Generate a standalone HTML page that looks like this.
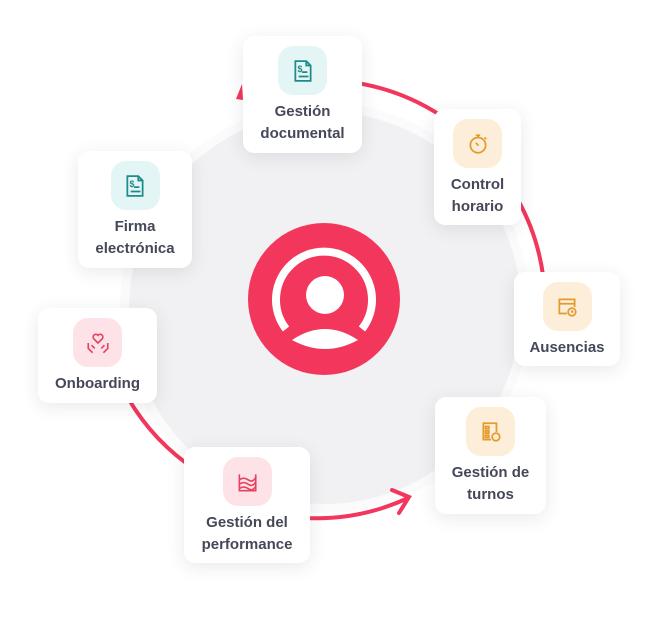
<!DOCTYPE html>
<html><head><meta charset="utf-8"><style>
html,body{margin:0;padding:0;background:#fff;}
body{width:658px;height:626px;position:relative;overflow:hidden;font-family:"Liberation Sans",sans-serif;}
.card{position:absolute;background:#fff;border-radius:11px;box-shadow:0 4px 18px rgba(40,40,60,0.10);text-align:center;color:#454858;font-weight:bold;font-size:15px;line-height:22px;}
.tile{width:49px;height:49px;border-radius:15px;margin:10px auto 6px;display:flex;align-items:center;justify-content:center;}
.teal{background:#e3f5f5;}.orange{background:#fdeed9;}.pink{background:#fde3e8;}
svg.bg{position:absolute;left:0;top:0;}
</style></head><body>
<svg class="bg" width="658" height="626" viewBox="0 0 658 626">
  <circle cx="325" cy="308" r="205" fill="#fbfbfc"/>
  <circle cx="325" cy="308" r="196" fill="#f1f1f3"/>
  <g fill="none" stroke="#f2365c" stroke-width="4" stroke-linecap="round">
    <path d="M350 82 A218 218 0 0 1 440 115"/>
    <path d="M518 200 A218 218 0 0 1 543 275"/>
    <path d="M128 398 A218 218 0 0 0 196 470"/>
    <path d="M305 518 A218 218 0 0 0 408 498"/>
    <path d="M392 490 L409 497 L399 513"/>
  </g>
  <path d="M236 99 L242 84 L243 100 Z" fill="#f2365c"/>
  <circle cx="324" cy="299" r="76" fill="#f2365c"/>
  <path d="M286 329 A48 48 0 1 1 362 329" fill="none" stroke="#fff" stroke-width="8"/>
  <circle cx="325" cy="295" r="19" fill="#fff"/>
  <path d="M292 340 Q325 318 358 340 Q325 358 292 340 Z" fill="#fff"/>
</svg>

<div class="card" style="left:243px;top:36px;width:119px;height:117px;">
  <div class="tile teal"><svg width="24" height="24" viewBox="0 0 22 22" fill="none" stroke="#1f8a8a" stroke-width="1.6"><path d="M4 2h10l4 4v14H4z"/><path d="M14 2v4h4"/><text x="6" y="12" font-size="8" fill="#1f8a8a" stroke="none" font-family="Liberation Sans">$</text><path d="M10 12h5M7 16h9"/></svg></div>
  Gestión<br>documental
</div>
<div class="card" style="left:434px;top:109px;width:87px;height:116px;">
  <div class="tile orange"><svg width="24" height="24" viewBox="0 0 22 22" fill="none" stroke="#e49b2c" stroke-width="1.6"><circle cx="11" cy="12" r="7"/><path d="M9 3h4M11 3v2M17 5l1.5 1.5M9 10l2.5 2.5"/></svg></div>
  Control<br>horario
</div>
<div class="card" style="left:514px;top:272px;width:106px;height:94px;">
  <div class="tile orange"><svg width="24" height="24" viewBox="0 0 22 22" fill="none" stroke="#e49b2c" stroke-width="1.6"><path d="M11 17H4V4h14v7M4 8h14"/><circle cx="15.5" cy="15.5" r="3.5"/><path d="M15.5 14v1.5h1.2"/></svg></div>
  Ausencias
</div>
<div class="card" style="left:435px;top:397px;width:111px;height:117px;">
  <div class="tile orange"><svg width="24" height="24" viewBox="0 0 22 22" fill="none" stroke="#e49b2c" stroke-width="1.6"><path d="M11 18H4V3h12v8"/><path d="M6 6h3v2H6zM6 10h3v2H6zM6 14h3v2H6z"/><circle cx="15.5" cy="15.5" r="3.5"/></svg></div>
  Gestión de<br>turnos
</div>
<div class="card" style="left:184px;top:447px;width:126px;height:116px;">
  <div class="tile pink"><svg width="24" height="24" viewBox="0 0 22 22" fill="none" stroke="#e8405f" stroke-width="1.5"><path d="M4 4v15h15V4"/><path d="M4 9q4-3 8 0t7-2M4 13q4-3 8 0t7-2M4 17q4-3 8 0t7-2"/></svg></div>
  Gestión del<br>performance
</div>
<div class="card" style="left:38px;top:308px;width:119px;height:95px;">
  <div class="tile pink"><svg width="26" height="26" viewBox="0 0 24 24" fill="none" stroke="#e8405f" stroke-width="1.5"><path d="M12 12l-4-4a2.4 2.4 0 0 1 4-3 2.4 2.4 0 0 1 4 3z"/><path d="M3 12v5l4 4M21 12v5l-4 4M6 14l3 3M18 14l-3 3"/></svg></div>
  Onboarding
</div>
<div class="card" style="left:78px;top:151px;width:114px;height:117px;">
  <div class="tile teal"><svg width="24" height="24" viewBox="0 0 22 22" fill="none" stroke="#1f8a8a" stroke-width="1.6"><path d="M4 2h10l4 4v14H4z"/><path d="M14 2v4h4"/><text x="6" y="12" font-size="8" fill="#1f8a8a" stroke="none" font-family="Liberation Sans">$</text><path d="M10 12h5M7 16h9"/></svg></div>
  Firma<br>electrónica
</div>
</body></html>
